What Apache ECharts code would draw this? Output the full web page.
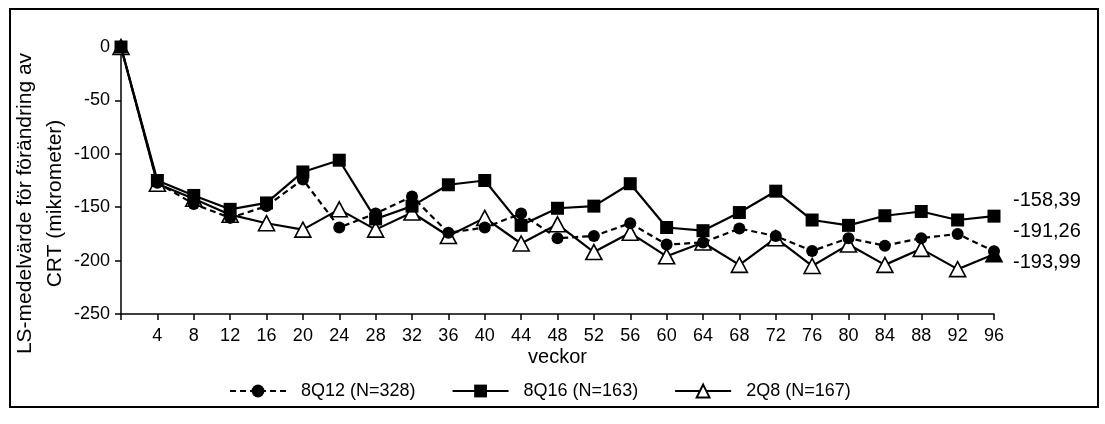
<!DOCTYPE html>
<html>
<head>
<meta charset="utf-8">
<script src="https://cdn.jsdelivr.net/npm/echarts@6/dist/echarts.min.js"></script>
<style>
html,body{margin:0;padding:0;background:#fff;}
#chart{width:1105px;height:424px;}
</style>
</head>
<body>
<div id="chart"></div>
<script>
const weeks = ['0','4','8','12','16','20','24','28','32','36','40','44','48','52','56','60','64','68','72','76','80','84','88','92','96'];
const s8Q12 = [0,-127,-147,-160,-149,-124,-169,-156,-140,-174,-169,-156,-179,-177,-165,-185,-183,-170,-177,-191,-179,-186,-179,-175,-191.26];
const s8Q16 = [0,-125,-139,-152,-146,-117,-106,-161,-149,-129,-125,-167,-151,-149,-128,-169,-172,-155,-135,-162,-167,-158,-154,-162,-158.39];
const s2Q8  = [0,-128,-142,-157,-165,-171,-152,-171,-155,-177,-160,-184,-166,-192,-174,-196,-183,-204,-179,-205,-185,-204,-189,-208,-193.99];
const names = ['8Q12 (N=328)','8Q16 (N=163)','2Q8 (N=167)'];
const yTicks = {min:-250, max:0, interval:50};

const FONT = 'Liberation Sans, Arial, sans-serif';
const chart = echarts.init(document.getElementById('chart'), null, {renderer:'canvas'});
const endFmt = p => String(p.value).replace('.', ',');
// last triangle is drawn filled (overlapping circle) as in the reference
const s2Q8Data = s2Q8.map((v, i) => i === s2Q8.length - 1 ? {value:v, itemStyle:{color:'#000'}} : v);

chart.setOption({
  animation:false,
  backgroundColor:'#fff',
  textStyle:{fontFamily:FONT, color:'#000'},
  grid:{left:121, right:111, top:47, bottom:110, containLabel:false, outerBoundsMode:'none'},
  graphic:[{type:'rect', shape:{x:10,y:9,width:1088,height:398}, style:{fill:'none', stroke:'#000', lineWidth:2}, silent:true, z:100}],
  legend:{
    data:names, left:229, top:382, padding:0, itemWidth:56, itemHeight:16, itemGap:36,
    textStyle:{fontFamily:FONT, fontSize:18, color:'#000', padding:[0,0,0,10]}
  },
  xAxis:{
    type:'category', data:weeks, boundaryGap:false,
    name:'veckor', nameLocation:'middle', nameGap:33, nameMoveOverlap:false,
    nameTextStyle:{fontFamily:FONT, fontSize:20, color:'#000'},
    axisLine:{onZero:false, lineStyle:{color:'#000', width:1.5}},
    axisTick:{show:true, length:6, interval:0, lineStyle:{color:'#000', width:1.5}},
    axisLabel:{interval:0, margin:13, fontFamily:FONT, fontSize:18, color:'#000', formatter:v => v === '0' ? '' : v},
    splitLine:{show:false}
  },
  yAxis:{
    type:'value', min:yTicks.min, max:yTicks.max, interval:yTicks.interval,
    name:'LS-medelvärde för förändring av\nCRT (mikrometer)', nameLocation:'middle', nameGap:51, nameRotate:90, nameMoveOverlap:false,
    nameTextStyle:{fontFamily:FONT, fontSize:21, lineHeight:30, color:'#000', align:'center', padding:[0,46,0,0]},
    axisLine:{show:true, lineStyle:{color:'#000', width:1.5}},
    axisTick:{show:true, length:6, lineStyle:{color:'#000', width:1.5}},
    axisLabel:{margin:11, fontFamily:FONT, fontSize:18, color:'#000'},
    splitLine:{show:false}
  },
  series:[
    {
      name:names[0], type:'line', data:s8Q12, z:4,
      symbol:'circle', symbolSize:12, showAllSymbol:true,
      itemStyle:{color:'#000'},
      lineStyle:{color:'#000', width:2.2, type:[6,4]},
      endLabel:{show:true, formatter:endFmt, distance:8, offset:[11,-20], fontFamily:FONT, fontSize:20, color:'#000'}
    },
    {
      name:names[1], type:'line', data:s8Q16, z:3,
      symbol:'rect', symbolSize:13, showAllSymbol:true,
      itemStyle:{color:'#000'},
      lineStyle:{color:'#000', width:2.2},
      endLabel:{show:true, formatter:endFmt, distance:8, offset:[11,-16], fontFamily:FONT, fontSize:20, color:'#000'}
    },
    {
      name:names[2], type:'line', data:s2Q8Data, z:2,
      symbol:'triangle', symbolSize:[16,15], showAllSymbol:true,
      itemStyle:{color:'#fff', borderColor:'#000', borderWidth:1.6},
      lineStyle:{color:'#000', width:2.2},
      endLabel:{show:true, formatter:endFmt, distance:8, offset:[11,8], fontFamily:FONT, fontSize:20, color:'#000'}
    }
  ]
});
</script>
</body>
</html>
